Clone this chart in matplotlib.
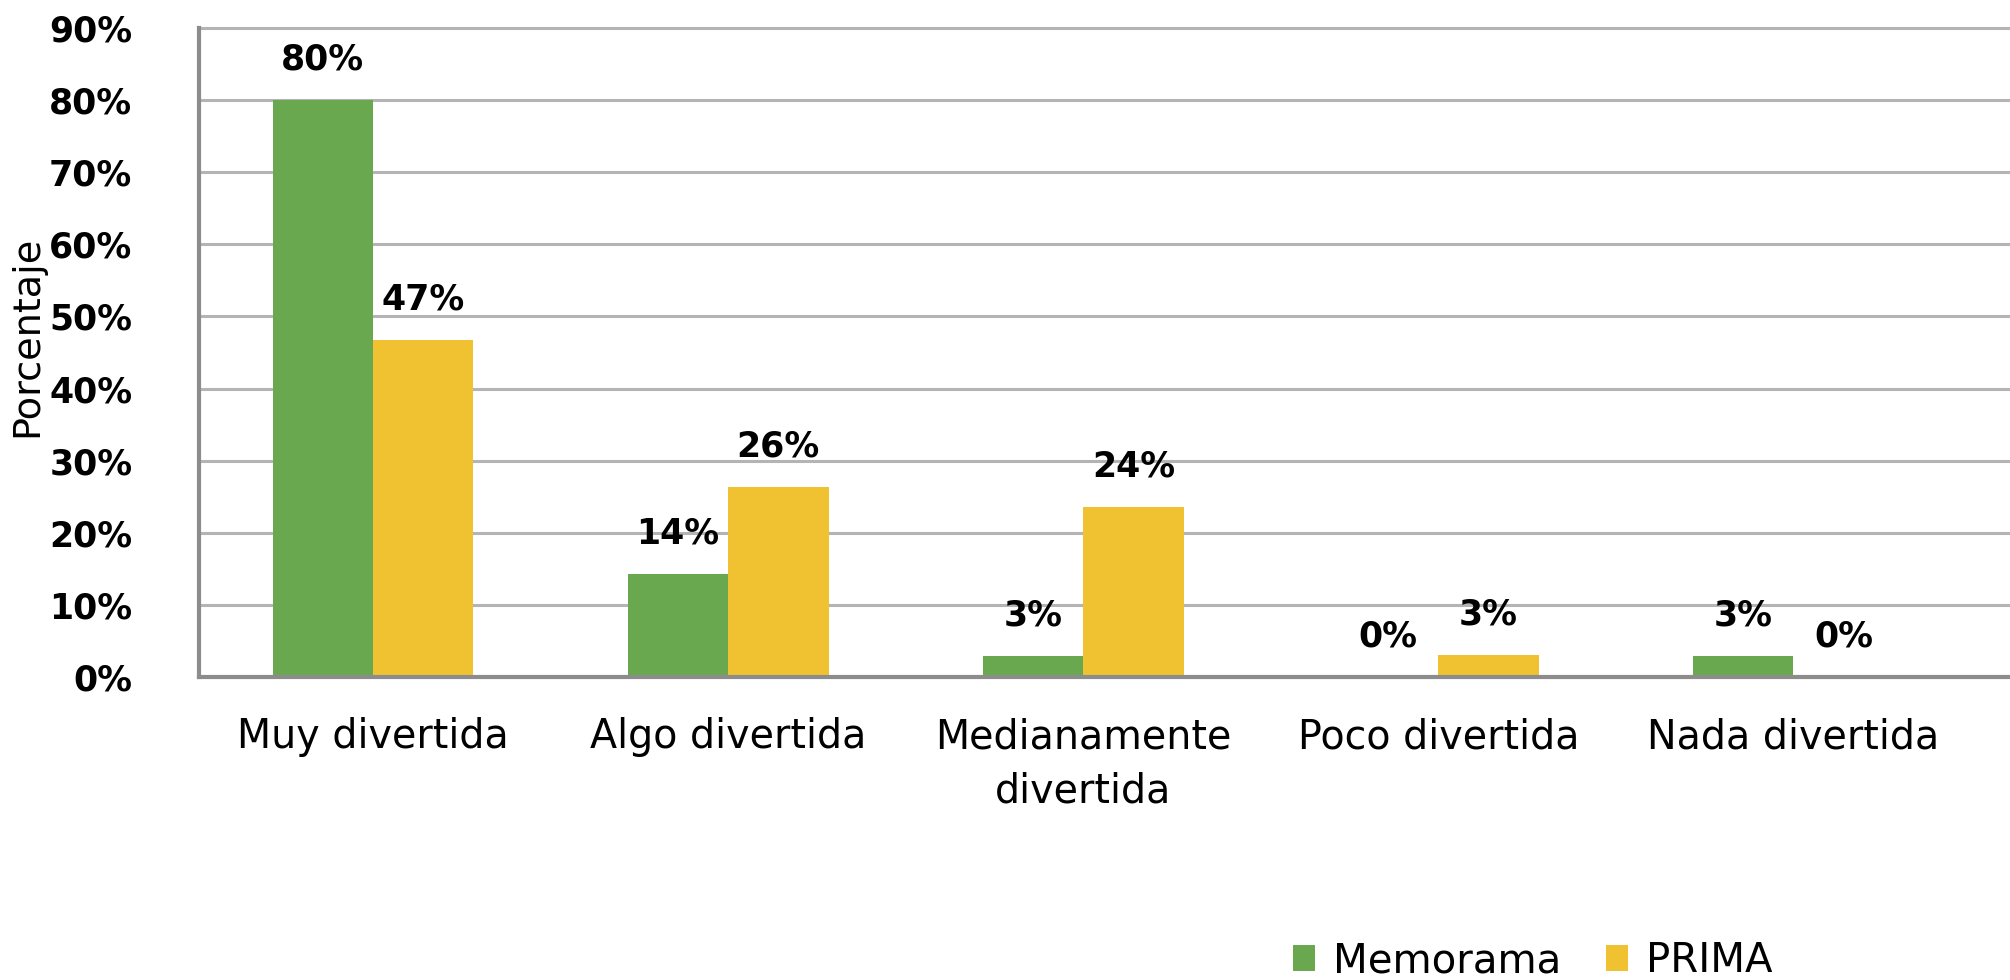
import matplotlib
matplotlib.use("Agg")
import matplotlib.pyplot as plt
import numpy as np

categories = ["Muy divertida", "Algo divertida", "Medianamente\ndivertida", "Poco divertida", "Nada divertida"]
memorama = [80.0, 14.3, 2.9, 0.0, 2.9]
prima = [46.8, 26.4, 23.6, 3.1, 0.0]
series_names = ["Memorama", "PRIMA"]
yticks = [0, 10, 20, 30, 40, 50, 60, 70, 80, 90]
ytick_labels = [f"{v}%" for v in yticks]

GREEN = "#6aa84f"
YELLOW = "#f0c232"
GRID = "#b4b4b4"
AXIS = "#8c8c8c"

plt.rcParams['font.family'] = ['DejaVu Sans']

W, H = 2010, 980
fig = plt.figure(figsize=(W / 100, H / 100), dpi=100)
left_px, right_px = 199, 2010
bottom_px, top_px = 677, 20.8
ax = fig.add_axes([left_px / W, 1 - bottom_px / H, (right_px - left_px) / W, (bottom_px - top_px) / H])

x = np.arange(len(categories))
bw = 0.283
b1 = ax.bar(x - bw / 2, memorama, bw, color=GREEN, label=series_names[0], zorder=3)
b2 = ax.bar(x + bw / 2, prima, bw, color=YELLOW, label=series_names[1], zorder=3)

ax.set_xlim(-0.49, 4.61)
ax.set_ylim(0, 91)
ax.set_yticks(yticks)
ax.set_yticklabels(ytick_labels, fontsize=25, fontweight='bold')
ax.set_xticks(x)
ax.set_xticklabels(categories, fontsize=28.5, linespacing=1.45)
ax.tick_params(axis='y', length=0, pad=48)
ax.tick_params(axis='x', length=0, pad=29)
ax.yaxis.grid(True, color=GRID, linewidth=2.2, zorder=0)
ax.set_axisbelow(True)

for s in ["top", "right"]:
    ax.spines[s].set_visible(False)
for s in ["left", "bottom"]:
    ax.spines[s].set_color(AXIS)
    ax.spines[s].set_linewidth(3)
    ax.spines[s].set_zorder(4)
ax.spines["left"].set_bounds(0, 90)

for bars, vals in ((b1, memorama), (b2, prima)):
    for rect, v in zip(bars, vals):
        ax.annotate(f"{v:.0f}%", (rect.get_x() + rect.get_width() / 2, v),
                    xytext=(0, 29), textcoords="offset points",
                    ha="center", va="center", fontsize=25, fontweight='bold')

fig.text(27 / W, 1 - 336 / H, "Porcentaje", rotation=90, ha="center", va="center",
         fontsize=27.5)

fig.legend(handles=[b1, b2], labels=series_names, loc="center",
           bbox_to_anchor=(1533 / W, 1 - 961 / H), ncol=2, frameon=False,
           fontsize=29, handlelength=0.55, handleheight=0.6, handletextpad=0.45,
           columnspacing=1.1)

fig.savefig("out.png", dpi=100, facecolor="white")
